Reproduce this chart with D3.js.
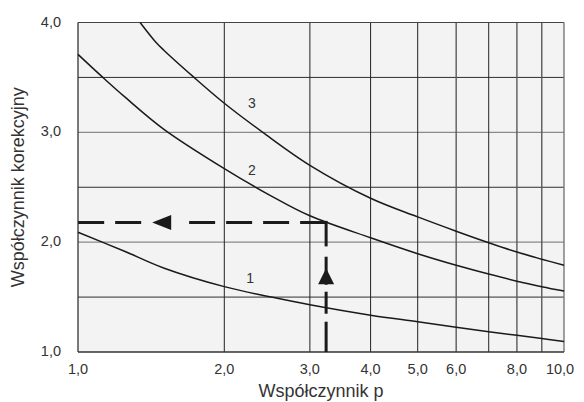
<!DOCTYPE html>
<html>
<head>
<meta charset="utf-8">
<script src="https://cdn.jsdelivr.net/npm/d3@7"></script>
<style>
  body { margin: 0; background: #fff; }
  text { font-family: "Liberation Sans", Arial, sans-serif; fill: #333; }
</style>
</head>
<body>
<svg width="584" height="402"></svg>
<script>
// curve 1
var p1 = [1, 1.25, 1.5, 2, 2.5, 3, 4, 5, 6, 7, 8, 9, 10];
var k1 = [2.09, 1.915, 1.765, 1.595, 1.50, 1.43, 1.335, 1.275, 1.225, 1.185, 1.152, 1.122, 1.095];
// curve 2
var p2 = [1, 1.125, 1.25, 1.5, 2, 2.5, 3, 4, 5, 6, 7, 8, 9, 10];
var k2 = [3.71, 3.5, 3.32, 3.03, 2.67, 2.42, 2.24, 2.04, 1.895, 1.79, 1.71, 1.645, 1.595, 1.555];
// curve 3
var p3 = [1.342, 1.44, 1.5, 1.733, 2, 2.4, 3, 4, 5, 6, 7, 8, 9, 10];
var k3 = [4.0, 3.83, 3.75, 3.5, 3.265, 3.0, 2.70, 2.40, 2.23, 2.10, 1.995, 1.91, 1.845, 1.79];

var curveNames = ["1", "2", "3"];
var labelP = [2.26, 2.28, 2.28];
var labelK = [1.67, 2.66, 3.27];

var xTicks = [1, 2, 3, 4, 5, 6, 8, 10];
var xTickLabels = ["1,0", "2,0", "3,0", "4,0", "5,0", "6,0", "8,0", "10,0"];
var xGrid = [2, 3, 4, 5, 6, 7, 8, 9];
var yTicks = [1, 2, 3, 4];
var yTickLabels = ["1,0", "2,0", "3,0", "4,0"];
var yGrid = [1.5, 2, 2.5, 3, 3.5];

// example reading: p = 3.24 gives k = 2.18
var readP = 3.24, readK = 2.18;
var arrowP = 1.49, arrowK = 1.69;

var svg = d3.select("svg"),
    width = +svg.attr("width"),
    height = +svg.attr("height");
var margin = {top: 22.5, right: 20, bottom: 50, left: 78};
var w = width - margin.left - margin.right,
    h = height - margin.top - margin.bottom;

var x = d3.scaleLog().domain([1, 10]).range([0, w]);
var y = d3.scaleLinear().domain([1, 4]).range([h, 0]);

var g = svg.append("g").attr("transform", "translate(" + margin.left + "," + margin.top + ")");

g.append("rect").attr("width", w).attr("height", h).attr("fill", "#f3f3f3");

g.selectAll(".hgrid").data(yGrid).enter().append("line")
    .attr("x1", 0).attr("x2", w)
    .attr("y1", function(d) { return y(d); }).attr("y2", function(d) { return y(d); })
    .attr("stroke", function(d) { return d % 1 == 0 ? "#8a8a8a" : "#2e2e2e"; })
    .attr("stroke-width", function(d) { return d % 1 == 0 ? 1.3 : 1; });

g.selectAll(".vgrid").data(xGrid).enter().append("line")
    .attr("y1", 0).attr("y2", h)
    .attr("x1", function(d) { return x(d); }).attr("x2", function(d) { return x(d); })
    .attr("stroke", function(d) { return d == 6 || d == 8 || d == 9 ? "#5a5a5a" : "#222"; })
    .attr("stroke-width", function(d) { return d == 6 || d == 8 || d == 9 ? 1.4 : 1; });

// frame
g.append("line").attr("x1", 0).attr("x2", w).attr("y1", 0).attr("y2", 0).attr("stroke", "#444");
g.append("line").attr("x1", w).attr("x2", w).attr("y1", 0).attr("y2", h).attr("stroke", "#777").attr("stroke-width", 1.4);
g.append("line").attr("x1", 0).attr("x2", 0).attr("y1", 0).attr("y2", h).attr("stroke", "#333").attr("stroke-width", 1.3);
g.append("line").attr("x1", 0).attr("x2", w).attr("y1", h).attr("y2", h).attr("stroke", "#333").attr("stroke-width", 1.3);

var line = d3.line()
    .x(function(d) { return x(d[0]); })
    .y(function(d) { return y(d[1]); })
    .curve(d3.curveCatmullRom.alpha(0.5));

[[p1, k1], [p2, k2], [p3, k3]].forEach(function(c) {
  g.append("path")
      .datum(d3.zip(c[0], c[1]))
      .attr("d", line)
      .attr("fill", "none")
      .attr("stroke", "#1a1a1a")
      .attr("stroke-width", 1.5);
});

g.selectAll(".clab").data(curveNames).enter().append("text")
    .attr("x", function(d, i) { return x(labelP[i]); })
    .attr("y", function(d, i) { return y(labelK[i]); })
    .attr("dy", "0.35em")
    .attr("text-anchor", "middle")
    .attr("font-size", 14)
    .text(function(d) { return d; });

// dashed reading lines
var cx = x(readP), cy = y(readK), ax = x(arrowP), ay = y(arrowK);
var dash = {stroke: "#1a1a1a", "stroke-width": 3, fill: "none"};
function dashed(d, da) {
  var p = g.append("path").attr("d", d).attr("stroke-dasharray", da);
  for (var k in dash) p.attr(k, dash[k]);
}
// horizontal: from corner to the left, with arrow gap
dashed("M" + cx + "," + cy + "H" + (ax + 26), "26,11");
dashed("M" + (ax - 21) + "," + cy + "H0", "26,11");
g.append("path")
    .attr("d", "M" + (ax - 10) + "," + cy + "l19,-7.5v15z")
    .attr("fill", "#1a1a1a");
// vertical: from corner down to the axis, with arrow
dashed("M" + cx + "," + (cy - 1.5) + "V" + (ay - 29.5), "25.5,100");
dashed("M" + cx + "," + (ay - 19.5) + "V" + (ay + 8.5), "40");
dashed("M" + cx + "," + (ay + 15.5) + "V" + (ay + 37.5), "40");
dashed("M" + cx + "," + (ay + 45.5) + "V" + h, "40");
g.append("path")
    .attr("d", "M" + cx + "," + (ay - 8) + "l8,16h-16z")
    .attr("fill", "#1a1a1a");

// tick labels
g.selectAll(".xl").data(xTicks).enter().append("text")
    .attr("x", function(d) { return x(d); })
    .attr("y", h + 22)
    .attr("text-anchor", "middle")
    .attr("dx", function(d) { return d == 10 ? -4 : 0; })
    .attr("font-size", 14.5)
    .text(function(d, i) { return xTickLabels[i]; });

g.selectAll(".yl").data(yTicks).enter().append("text")
    .attr("x", -17)
    .attr("y", function(d) { return y(d) - 1; })
    .attr("dy", "0.35em")
    .attr("text-anchor", "end")
    .attr("font-size", 14.5)
    .text(function(d, i) { return yTickLabels[i]; });

// axis titles
g.append("text")
    .attr("x", w / 2)
    .attr("y", h + 45)
    .attr("text-anchor", "middle")
    .attr("font-size", 18)
    .text("Współczynnik p");

g.append("text")
    .attr("transform", "translate(" + (-54) + "," + (h / 2) + ") rotate(-90)")
    .attr("text-anchor", "middle")
    .attr("font-size", 18)
    .text("Współczynnik korekcyjny");
</script>
</body>
</html>
